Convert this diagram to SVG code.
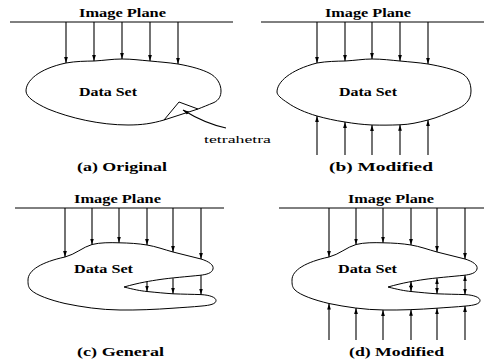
<svg xmlns="http://www.w3.org/2000/svg" width="484" height="360" viewBox="0 0 484 360">
<style>
.t{font-family:"Liberation Serif","Times New Roman",serif;font-weight:bold;font-size:11.5px;fill:#000}
.cap{font-size:12px}
.reg{font-weight:normal;font-size:11px}
.ln{stroke:#000;stroke-width:1;fill:none}
.blob{stroke:#000;stroke-width:1;fill:none;stroke-linejoin:round}
.ar{stroke:#000;stroke-width:1.1;fill:none;marker-end:url(#ah)}
.dar{stroke:#000;stroke-width:1.1;fill:none;marker-end:url(#ah);marker-start:url(#ah)}
</style>
<defs>
<marker id="ah" viewBox="0 0 8 5" refX="8" refY="2.5" markerWidth="6" markerHeight="4" orient="auto-start-reverse" markerUnits="userSpaceOnUse"><path d="M0,0 L8,2.5 L0,5 z" fill="#000"/></marker>
</defs>
<rect width="484" height="360" fill="#fff"/>

<!-- Panel (a) -->
<g id="plane-a">
<line class="ln" x1="10" y1="22" x2="233" y2="22"/>
<text class="t" x="79" y="16.5" textLength="87" lengthAdjust="spacingAndGlyphs">Image Plane</text>
</g>
<g id="dataset-a">
<path class="blob" d="M 26,91 C 26,81 38,69 66,63 C 76,61.2 85,61.2 94,61 C 104,60.5 112,59 122,59 C 132,59 140,60.2 150,61 C 160,62 168,62.5 178,64 C 192,66.5 202,69.5 209,73 C 217,77 221,84 221,91 C 221,96 219,100 214,102.5 C 208,105 203,107 198,109 L 164,120 C 152,123.5 142,125 128,125 C 100,125 70,118 48,109 C 35,103 26,97 26,91 Z"/>
<text class="t" x="79" y="96" textLength="58" lengthAdjust="spacingAndGlyphs">Data Set</text>
</g>
<g id="tetrahedron">
<path class="ln" d="M164,120 L179,102 L198,109"/>
<text class="t reg" x="204" y="142.5" textLength="67" lengthAdjust="spacingAndGlyphs">tetrahetra</text>
</g>
<text id="caption-a" class="t cap" x="77" y="171" textLength="90" lengthAdjust="spacingAndGlyphs">(a) Original</text>

<!-- Panel (b) -->
<g id="plane-b">
<line class="ln" x1="261" y1="22" x2="484" y2="22"/>
<text class="t" x="325" y="16.5" textLength="86" lengthAdjust="spacingAndGlyphs">Image Plane</text>
</g>
<g id="dataset-b">
<path class="blob" d="M 277,92 C 277,82 290,70 317,63 C 327,61.3 336,61.2 345,61 C 355,60.5 363,59 372,59 C 382,59 391,60.2 400,61 C 410,62 418,62.5 428,64 C 442,66.5 452,69 460,72.5 C 468,76 471,83 471,91 C 471,100 465,106 455,110 C 445,114 438,117.5 428,120 C 418,122.5 410,124.5 400,124.8 C 390,125.2 382,125.2 372,125 C 362,124.5 354,123.5 345,122 C 335,120.5 326,118.5 317,116 C 305,112.5 295,108 288,103 C 281,98.5 277,95 277,92 Z"/>
<text class="t" x="339" y="96" textLength="58" lengthAdjust="spacingAndGlyphs">Data Set</text>
</g>
<text id="caption-b" class="t cap" x="329" y="171" textLength="104" lengthAdjust="spacingAndGlyphs">(b) Modified</text>

<!-- Panel (c) -->
<g id="plane-c">
<line class="ln" x1="15" y1="208" x2="224" y2="208"/>
<text class="t" x="74" y="203" textLength="87" lengthAdjust="spacingAndGlyphs">Image Plane</text>
</g>
<g id="dataset-c">
<path class="blob" d="M 28,280 C 28,270 42,262 65,257 C 75,254.5 83,247 92,244.5 C 100,242.5 110,242.5 119,242.8 C 129,243 138,243.5 147,245 C 156,246.5 164,249.5 173,252 C 182,254.5 192,256.5 201,259 C 209,261.5 214,265 213,269 C 212,273 207,274.5 200,275.3 C 188,276.5 170,278 160,279.5 C 150,281 140,282.5 124,287 C 134,289.5 140,290.8 147,291.5 C 157,292.5 165,293.3 173,293.8 C 183,294.2 192,294.3 201,294.6 C 210,295 216,297.5 216,300.5 C 216,304 210,305.3 202,306 C 192,307 182,307.5 173,308.2 C 155,309.5 137,310.2 120,310 C 100,309.8 82,307 65,303.5 C 50,300 36,295 31,290 C 28,287 28,284 28,280 Z"/>
<text class="t" x="74" y="273" textLength="59" lengthAdjust="spacingAndGlyphs">Data Set</text>
</g>
<text id="caption-c" class="t cap" x="77" y="355.5" textLength="87" lengthAdjust="spacingAndGlyphs">(c) General</text>

<!-- Panel (d) -->
<g id="plane-d">
<line class="ln" x1="279" y1="208" x2="484" y2="208"/>
<text class="t" x="348" y="203" textLength="86" lengthAdjust="spacingAndGlyphs">Image Plane</text>
</g>
<g id="dataset-d">
<path class="blob" transform="translate(264,0)" d="M 28,280 C 28,270 42,262 65,257 C 75,254.5 83,247 92,244.5 C 100,242.5 110,242.5 119,242.8 C 129,243 138,243.5 147,245 C 156,246.5 164,249.5 173,252 C 182,254.5 192,256.5 201,259 C 209,261.5 214,265 213,269 C 212,273 207,274.5 200,275.3 C 188,276.5 170,278 160,279.5 C 150,281 140,282.5 124,287 C 134,289.5 140,290.8 147,291.5 C 157,292.5 165,293.3 173,293.8 C 183,294.2 192,294.3 201,294.6 C 210,295 216,297.5 216,300.5 C 216,304 210,305.3 202,306 C 192,307 182,307.5 173,308.2 C 155,309.5 137,310.2 120,310 C 100,309.8 82,307 65,303.5 C 50,300 36,295 31,290 C 28,287 28,284 28,280 Z"/>
<text class="t" x="338" y="273" textLength="59" lengthAdjust="spacingAndGlyphs">Data Set</text>
</g>
<text id="caption-d" class="t cap" x="349" y="355.5" textLength="95" lengthAdjust="spacingAndGlyphs">(d) Modified</text>

<g id="connectors">
<line class="ar" x1="66" y1="22" x2="66" y2="63"/>
<line class="ar" x1="94" y1="22" x2="94" y2="61"/>
<line class="ar" x1="122" y1="22" x2="122" y2="59"/>
<line class="ar" x1="150" y1="22" x2="150" y2="61"/>
<line class="ar" x1="178" y1="22" x2="178" y2="64"/>
<path class="ar" d="M 226,128 C 212,125 196,118 183,110"/>
<line class="ar" x1="317" y1="22" x2="317" y2="63"/>
<line class="ar" x1="345" y1="22" x2="345" y2="61"/>
<line class="ar" x1="372" y1="22" x2="372" y2="59"/>
<line class="ar" x1="400" y1="22" x2="400" y2="61"/>
<line class="ar" x1="428" y1="22" x2="428" y2="64"/>
<line class="ar" x1="317" y1="155" x2="317" y2="116"/>
<line class="ar" x1="345" y1="155" x2="345" y2="122"/>
<line class="ar" x1="372" y1="155" x2="372" y2="125"/>
<line class="ar" x1="400" y1="155" x2="400" y2="124.8"/>
<line class="ar" x1="428" y1="155" x2="428" y2="120"/>
<line class="ar" x1="65" y1="208" x2="65" y2="257"/>
<line class="ar" x1="92" y1="208" x2="92" y2="244.5"/>
<line class="ar" x1="119" y1="208" x2="119" y2="242.8"/>
<line class="ar" x1="147" y1="208" x2="147" y2="245"/>
<line class="ar" x1="173" y1="208" x2="173" y2="252"/>
<line class="ar" x1="201" y1="208" x2="201" y2="259"/>
<line class="ar" x1="147" y1="281.4" x2="147" y2="291.5"/>
<line class="ar" x1="173" y1="278.3" x2="173" y2="293.8"/>
<line class="ar" x1="201" y1="275.3" x2="201" y2="294.6"/>
<line class="ar" x1="329" y1="208" x2="329" y2="257"/>
<line class="ar" x1="356" y1="208" x2="356" y2="244.5"/>
<line class="ar" x1="383" y1="208" x2="383" y2="242.8"/>
<line class="ar" x1="411" y1="208" x2="411" y2="245"/>
<line class="ar" x1="437" y1="208" x2="437" y2="252"/>
<line class="ar" x1="465" y1="208" x2="465" y2="259"/>
<line class="dar" x1="411" y1="281.4" x2="411" y2="291.5"/>
<line class="dar" x1="437" y1="278.3" x2="437" y2="293.8"/>
<line class="dar" x1="465" y1="275.3" x2="465" y2="294.6"/>
<line class="ar" x1="329" y1="340" x2="329" y2="303.5"/>
<line class="ar" x1="356" y1="340" x2="356" y2="308"/>
<line class="ar" x1="383" y1="340" x2="383" y2="310"/>
<line class="ar" x1="411" y1="340" x2="411" y2="309.7"/>
<line class="ar" x1="437" y1="340" x2="437" y2="308.2"/>
<line class="ar" x1="465" y1="340" x2="465" y2="306"/>
</g>
</svg>
